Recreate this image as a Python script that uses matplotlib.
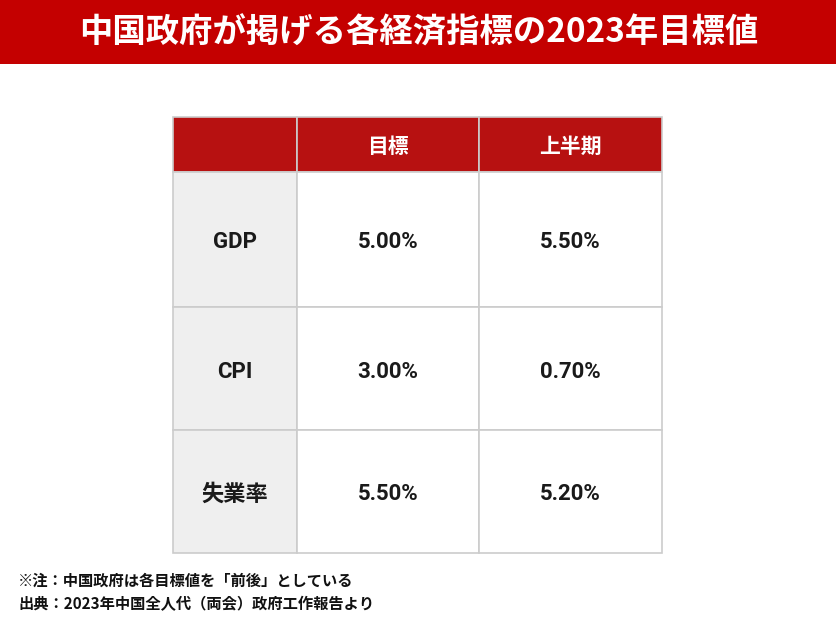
import matplotlib
matplotlib.use("Agg")
import matplotlib.pyplot as plt
from matplotlib.patches import Rectangle

plt.rcParams['font.family'] = ['Noto Sans CJK JP', 'DejaVu Sans']
body_family = ['Roboto', 'Noto Sans CJK JP', 'DejaVu Sans']

title = "中国政府が掲げる各経済指標の2023年目標値"
columns = ["", "目標", "上半期"]
rows = ["GDP", "CPI", "失業率"]
target = ["5.00%", "3.00%", "5.50%"]
first_half = ["5.50%", "0.70%", "5.20%"]
notes = ["※注：中国政府は各目標値を「前後」としている",
         "出典：2023年中国全人代（両会）政府工作報告より"]

W, H = 836, 626
fig = plt.figure(figsize=(W / 100, H / 100), dpi=100)
ax = fig.add_axes([0, 0, 1, 1])
ax.set_xlim(0, W)
ax.set_ylim(H, 0)
ax.axis("off")

# title banner
ax.add_patch(Rectangle((0, 0), W, 64, facecolor="#C40000", edgecolor="none"))
ax.text(W / 2 + 1, 33, title, color="white", fontsize=24, fontweight="bold",
        ha="center", va="center")

# table geometry
col_x = [173, 297, 479, 662]
row_y = [117, 172, 307, 430, 553]
grid = "#CCCCCC"

# header
for j in range(3):
    ax.add_patch(Rectangle((col_x[j], row_y[0]), col_x[j + 1] - col_x[j],
                           row_y[1] - row_y[0], facecolor="#B71111",
                           edgecolor=grid, linewidth=1.2))
    if columns[j]:
        ax.text((col_x[j] + col_x[j + 1]) / 2, (row_y[0] + row_y[1]) / 2 + 2,
                columns[j], color="white", fontsize=15, fontweight="bold",
                ha="center", va="center")

# body
for i, name in enumerate(rows):
    y0, y1 = row_y[i + 1], row_y[i + 2]
    cells = [name, target[i], first_half[i]]
    for j in range(3):
        fc = "#EFEFEF" if j == 0 else "white"
        ax.add_patch(Rectangle((col_x[j], y0), col_x[j + 1] - col_x[j],
                               y1 - y0, facecolor=fc, edgecolor=grid,
                               linewidth=1.2))
        ax.text((col_x[j] + col_x[j + 1]) / 2, (y0 + y1) / 2 + 3, cells[j],
                color="#1a1a1a", fontsize=16, fontweight="bold",
                family=body_family, ha="center", va="center")

# notes
ax.text(18, 581, notes[0], color="#111111", fontsize=11, fontweight="bold",
        ha="left", va="center")
ax.text(18, 604, notes[1], color="#111111", fontsize=11, fontweight="bold",
        ha="left", va="center")

fig.savefig("out.png", dpi=100, facecolor="white")
